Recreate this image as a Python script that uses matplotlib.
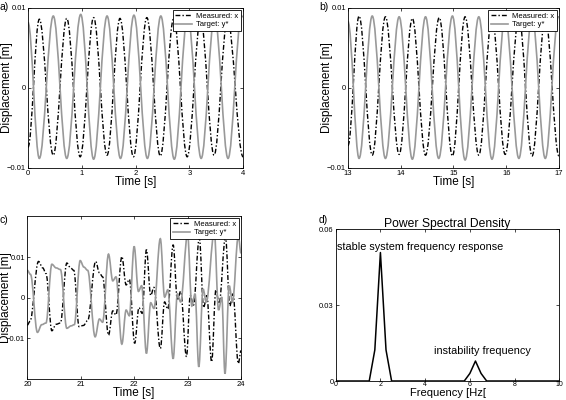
import matplotlib.pyplot as plt
import numpy as np
from matplotlib.path import Path
from matplotlib.patches import PathPatch
from matplotlib.lines import Line2D

plt.rcParams['font.family'] = ['Liberation Sans', 'DejaVu Sans']

# turning points of each trace: time [s], displacement [mm]
# a) 0-4 s
a_t_meas = [0.0, 0.21, 0.47, 0.72, 0.97, 1.22, 1.47, 1.71, 1.96, 2.21, 2.46, 2.71,
            2.96, 3.21, 3.46, 3.71, 4.0]
a_meas = [-7.4, 8.6, -8.4, 8.7, -8.6, 8.8, -8.4, 8.7, -8.6, 8.8, -8.5, 8.7,
          -8.6, 8.6, -8.4, 8.6, -8.6]
a_t_targ = [0.0, 0.21, 0.47, 0.72, 0.98, 1.22, 1.47, 1.72, 1.97, 2.22, 2.47, 2.72,
            2.97, 3.22, 3.47, 3.72, 3.97, 4.0]
a_targ = [8.2, -8.8, 9.0, -8.8, 9.2, -8.9, 9.0, -8.8, 9.1, -8.8, 9.0, -8.9,
          9.1, -8.8, 9.0, -8.8, 9.0, 8.9]

# b) 13-17 s
b_t_meas = [13.0, 13.21, 13.46, 13.71, 13.97, 14.22, 14.47, 14.73, 14.98, 15.22,
            15.48, 15.73, 15.98, 16.24, 16.49, 16.74, 17.0]
b_meas = [-7.2, 9.0, -8.4, 8.9, -8.3, 8.7, -8.4, 8.8, -8.5, 8.9,
          -8.4, 8.8, -8.3, 8.8, -8.5, 8.8, -8.5]
b_t_targ = [13.0, 13.21, 13.46, 13.71, 13.97, 14.22, 14.47, 14.72, 14.98, 15.22,
            15.48, 15.73, 15.98, 16.24, 16.49, 16.74, 16.99, 17.0]
b_targ = [8.3, -8.8, 9.0, -8.8, 8.9, -8.9, 8.9, -8.8, 9.0, -9.0,
          8.9, -8.9, 9.0, -8.8, 9.0, -8.8, 8.9, 8.9]

# c) 20-24 s, onset of the instability
c_t_meas = [20.00, 20.05, 20.21, 20.29, 20.35, 20.46, 20.54, 20.62, 20.74, 20.81,
            20.87, 20.97, 21.05, 21.13, 21.28, 21.35, 21.41, 21.52, 21.60, 21.66,
            21.77, 21.85, 21.91, 22.01, 22.09, 22.15, 22.23, 22.31, 22.37, 22.49,
            22.57, 22.63, 22.73, 22.81, 22.87, 22.98, 23.05, 23.11, 23.22, 23.30,
            23.36, 23.45, 23.53, 23.59, 23.71, 23.79, 23.85, 23.95, 24.00]
c_meas = [-6.7, -5.8, 9.0, 7.4, 6.0, -8.1, -6.5, -6.2, 8.6, 7.4,
          6.8, -7.1, -6.8, -5.6, 9.0, 6.2, 5.2, -9.2, -3.2, -4.2,
          10.2, 3.2, 4.6, -11.2, -2.4, -3.8, 11.9, 0.6, 2.6, -12.5,
          -1.0, -2.8, 13.1, -0.6, 1.6, -14.5, 0.6, -1.8, 14.8, -2.4,
          0.6, -15.8, 2.0, -1.4, 15.0, -2.0, 1.0, -16.2, -13.0]
c_t_targ = [20.00, 20.06, 20.19, 20.27, 20.35, 20.46, 20.54, 20.62, 20.74, 20.82,
            20.88, 20.99, 21.06, 21.13, 21.27, 21.35, 21.41, 21.52, 21.60, 21.66,
            21.77, 21.85, 21.91, 22.00, 22.08, 22.14, 22.23, 22.31, 22.37, 22.49,
            22.57, 22.63, 22.73, 22.81, 22.87, 23.00, 23.08, 23.14, 23.21, 23.29,
            23.35, 23.50, 23.58, 23.64, 23.70, 23.78, 23.84, 23.95, 24.00]
c_targ = [6.8, 5.8, -8.5, -6.6, -6.2, 8.3, 7.4, 7.0, -7.5, -6.9,
          -6.6, 9.2, 7.6, 6.8, -9.6, -5.2, -6.0, 10.8, 4.2, 5.2,
          -11.4, -3.0, -4.4, 12.7, 1.6, 3.0, -13.7, -1.2, -2.6, 14.6,
          0.2, 2.0, -15.0, 1.0, -1.0, 15.6, -2.0, 1.0, -17.0, 2.2,
          -1.0, 16.2, -3.0, 0.2, -18.7, 3.0, -1.0, 15.2, 11.0]

# d) power spectral density
psd_freq = [0, 1.5, 1.75, 2.0, 2.25, 2.5, 5.75, 6.0, 6.25, 6.5, 6.75, 10]
psd = [0, 0, 0.0123, 0.0508, 0.0123, 0, 0, 0.003, 0.0079, 0.003, 0, 0]

GRAY = '0.6'
DASHDOT = (0, (3.5, 1.5, 1.0, 1.5))


def smooth_path(t, v):
    # cubic Bezier through the turning points, flat at each of them
    t = np.asarray(t, float)
    v = np.asarray(v, float) * 1e-3
    verts = [(t[0], v[0])]
    codes = [Path.MOVETO]
    for i in range(len(t) - 1):
        d = (t[i + 1] - t[i]) * 0.363
        verts += [(t[i] + d, v[i]), (t[i + 1] - d, v[i + 1]), (t[i + 1], v[i + 1])]
        codes += [Path.CURVE4] * 3
    return Path(verts, codes)


def style_axes(ax):
    ax.tick_params(direction='in', top=True, right=True, length=2.5, width=0.5,
                   labelsize=5.5, pad=1.5)
    for sp in ax.spines.values():
        sp.set_linewidth(0.6)


def time_panel(ax, t_meas, meas, t_targ, targ, xlim, ylim, xticks):
    ax.add_patch(PathPatch(smooth_path(t_meas, meas), fill=False, edgecolor='k',
                           lw=1.0, linestyle=DASHDOT))
    ax.add_patch(PathPatch(smooth_path(t_targ, targ), fill=False, edgecolor=GRAY,
                           lw=1.2))
    ax.set_xlim(xlim)
    ax.set_ylim(ylim)
    ax.set_xticks(xticks)
    ax.set_xticklabels([str(x) for x in xticks])
    ax.set_yticks([-0.01, 0, 0.01])
    ax.set_yticklabels(['\u22120.01', '0', '0.01'])
    ax.set_xlabel('Time [s]', fontsize=8.5)
    ax.set_ylabel('Displacement [m]', fontsize=8.5)
    ax.yaxis.set_label_coords(-0.07, 0.5)
    handles = [Line2D([], [], color='k', lw=1.0, linestyle=DASHDOT),
               Line2D([], [], color=GRAY, lw=1.2)]
    leg = ax.legend(handles, ['Measured: x', 'Target: y*'], loc='upper right',
                    fontsize=5.5, fancybox=False, edgecolor='k', framealpha=1,
                    borderpad=0.3, handlelength=2.2, labelspacing=0.15,
                    borderaxespad=0.3, handletextpad=0.6)
    leg.get_frame().set_linewidth(0.6)
    style_axes(ax)


fig = plt.figure(figsize=(5.66, 4.0), dpi=100)
ax_a = fig.add_axes([0.0495, 0.58, 0.38, 0.40])
ax_b = fig.add_axes([0.6148, 0.58, 0.3728, 0.40])
ax_c = fig.add_axes([0.0482, 0.0525, 0.3776, 0.4075])
ax_d = fig.add_axes([0.5931, 0.0475, 0.3951, 0.3793])

time_panel(ax_a, a_t_meas, a_meas, a_t_targ, a_targ, (0, 4), (-0.01, 0.01), [0, 1, 2, 3, 4])
ax_a.xaxis.set_label_coords(0.5, -0.05)
time_panel(ax_b, b_t_meas, b_meas, b_t_targ, b_targ, (13, 17), (-0.01, 0.01),
           [13, 14, 15, 16, 17])
ax_b.xaxis.set_label_coords(0.5, -0.048)
time_panel(ax_c, c_t_meas, c_meas, c_t_targ, c_targ, (20, 24), (-0.02, 0.0202),
           [20, 21, 22, 23, 24])
ax_c.xaxis.set_label_coords(0.5, -0.051)

ax_d.plot(psd_freq, psd, color='k', lw=1.1)
ax_d.set_xlim(0, 10)
ax_d.set_ylim(0, 0.06)
ax_d.set_xticks([0, 2, 4, 6, 8, 10])
ax_d.set_yticks([0, 0.03, 0.06])
ax_d.set_yticklabels(['0', '0.03', '0.06'])
ax_d.set_title('Power Spectral Density', fontsize=8.7, pad=1.5)
ax_d.set_xlabel('Frequency [Hz[', fontsize=8.0)
ax_d.xaxis.set_label_coords(0.5, -0.043)
ax_d.text(0.06, 0.0531, 'stable system frequency response', fontsize=7.8, va='center')
ax_d.text(4.38, 0.012, 'instability frequency', fontsize=7.8, va='center')
style_axes(ax_d)
ax_d.tick_params(axis='x', labelsize=5.0, pad=0.3)

fig.text(0.0, 0.9825, 'a)', fontsize=7.5, va='center')
fig.text(0.5636, 0.9825, 'b)', fontsize=7.5, va='center')
fig.text(0.0, 0.45, 'c)', fontsize=7.5, va='center')
fig.text(0.5636, 0.45, 'd)', fontsize=7.5, va='center')

fig.savefig('out.png', dpi=100)
